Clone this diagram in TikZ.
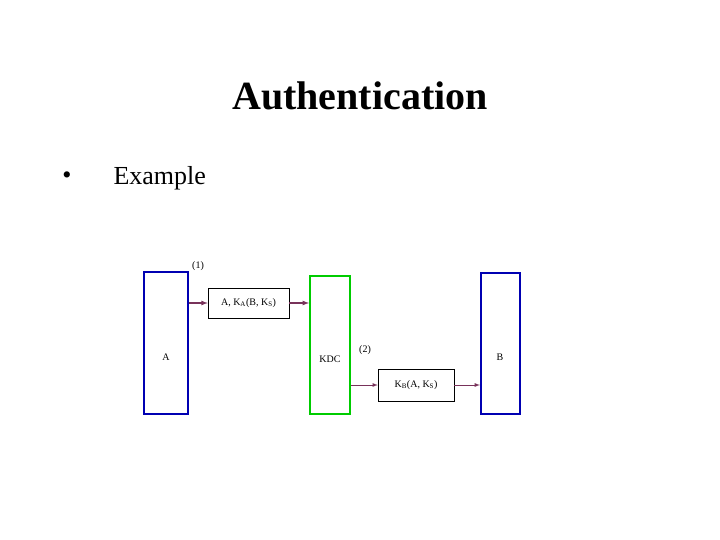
\documentclass[tikz,border=0pt]{standalone}
\usepackage{fontspec}
\setmainfont{Liberation Serif}
\begin{document}
\begin{tikzpicture}[x=1pt,y=-1pt,
  party/.style={draw=blue!70!black,line width=2.2pt,inner sep=0pt},
  kdcbox/.style={draw=green!80!black,line width=2pt,inner sep=0pt},
  msg/.style={draw,line width=0.5pt,inner sep=0pt,font=\fontsize{10}{12}\selectfont},
  arr/.style={draw={rgb,255:red,120;green,50;blue,90},line width=1.2pt,-latex},
  small/.style={font=\fontsize{10}{12}\selectfont}]
\useasboundingbox (0,0) rectangle (720,540);
\node[font=\bfseries\fontsize{40}{46}\selectfont] (title) at (360,96) {Authentication};
\node[font=\fontsize{26}{30}\selectfont] (bul) at (67,178) {•};
\node[font=\fontsize{26}{30}\selectfont,anchor=west] (ex) at (110,178) {Example};
\node[party,minimum width=44,minimum height=142] (A) at (166,343) {};
\node[small] at (166,357) {A};
\node[kdcbox,minimum width=40,minimum height=138] (K) at (330,345) {};
\node[small] at (330,359) {KDC};
\node[party,minimum width=39,minimum height=141] (B) at (500.5,343.5) {};
\node[small] at (500,357) {B};
\node[msg,minimum width=81,minimum height=30] (m1) at (248.5,303) {A, K\textsubscript{A}(B, K\textsubscript{S})};
\node[msg,minimum width=76,minimum height=32] (m2) at (416,385) {K\textsubscript{B}(A, K\textsubscript{S})};
\node[small] (l1) at (198,266) {(1)};
\node[small] (l2) at (365,350) {(2)};
\draw[arr] (A.east |- m1.west) -- (m1.west);
\draw[arr] (m1.east) -- (K.west |- m1.east);
\draw[arr,line width=0.8pt] (K.east |- m2.west) -- (m2.west);
\draw[arr,line width=0.8pt] (m2.east) -- (B.west |- m2.east);
\end{tikzpicture}
\end{document}
